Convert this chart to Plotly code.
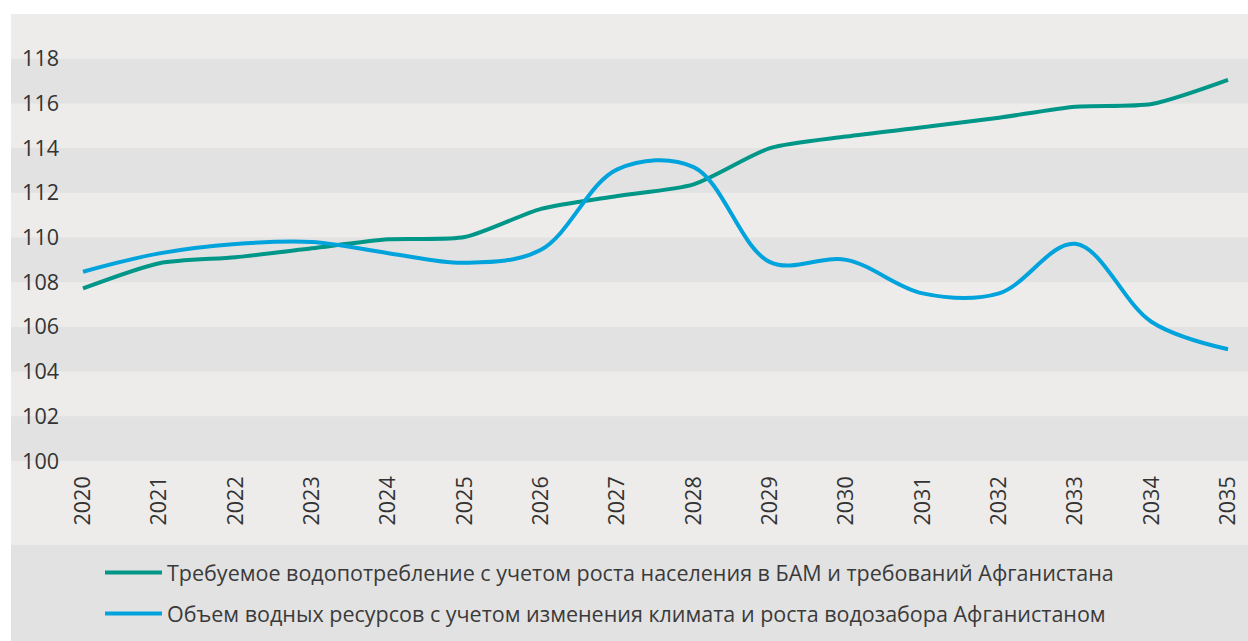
import plotly.graph_objects as go

years = list(range(2020, 2036))
demand = [107.72, 108.85, 109.12, 109.52, 109.92, 110.02, 111.28, 111.86, 112.38,
          114.0, 114.52, 114.93, 115.36, 115.85, 115.97, 117.05]
supply = [108.47, 109.29, 109.71, 109.8, 109.3, 108.87, 109.45, 113.05, 113.15,
          108.9, 109.0, 107.5, 107.5, 109.72, 106.22, 105.0]
names = ["Требуемое водопотребление с учетом роста населения в БАМ и требований Афганистана",
         "Объем водных ресурсов с учетом изменения климата и роста водозабора Афганистаном"]
colors = ["#009688", "#00a3db"]
ytick_vals = list(range(100, 120, 2))

W, H = 1248, 641
L, R, T, B = 60, 0, 14, 180
plot_w = W - L - R
plot_h = H - T - B
px_per_year = (1228 - 83) / 15
x0 = 2020 - (83 - L) / px_per_year
x1 = 2035 + (W - R - 1228) / px_per_year

fig = go.Figure()
for i, (name, vals, col, sm) in enumerate(zip(names, [demand, supply], colors, [0.7, 1.0])):
    fig.add_trace(go.Scatter(x=years, y=vals, name=name, mode="lines", legendgroup=f"g{i}",
                             line=dict(color=col, width=4, shape="spline", smoothing=sm)))

def py(pix):
    return (H - B - pix) / plot_h

def px(pix):
    return (pix - L) / plot_w

shapes = []
shapes.append(dict(type="rect", xref="paper", yref="paper", x0=px(11), x1=1.0,
                   y0=py(545), y1=py(14), fillcolor="#edecea", line_width=0, layer="below"))
shapes.append(dict(type="rect", xref="paper", yref="paper", x0=px(11), x1=1.0,
                   y0=py(660), y1=py(545), fillcolor="#e2e2e2", line_width=0, layer="below"))
for v in range(100, 120, 4):
    shapes.append(dict(type="rect", xref="paper", yref="y", x0=px(11), x1=1.0,
                       y0=v, y1=v + 2, fillcolor="#e2e2e2", line_width=0, layer="below"))

FS = 21.5
fig.update_layout(
    width=W, height=H,
    margin=dict(l=L, r=R, t=T, b=B),
    paper_bgcolor="white",
    plot_bgcolor="rgba(0,0,0,0)",
    font=dict(family="Open Sans", size=FS, color="#333333"),
    shapes=shapes,
    showlegend=True,
    legend=dict(orientation="v", x=px(100), xanchor="left", y=py(552), yanchor="top",
                bgcolor="rgba(0,0,0,0)", font=dict(size=FS, color="#3a3a3a"),
                itemwidth=57, tracegroupgap=10),
    xaxis=dict(range=[x0, x1], tickvals=years, ticktext=[str(y) for y in years],
               tickangle=-90, showgrid=False, zeroline=False, showline=False,
               ticks="", ticklabelstandoff=10, tickfont=dict(size=FS, color="#333333")),
    yaxis=dict(range=[100, 120], tickvals=ytick_vals, showgrid=False, zeroline=False,
               showline=False, ticks="", ticklabelstandoff=0,
               tickfont=dict(size=FS, color="#333333")),
)

fig.write_html("out.html", config={"displayModeBar": False},
               post_script="document.body.style.margin='0';document.body.style.overflow='hidden';")
